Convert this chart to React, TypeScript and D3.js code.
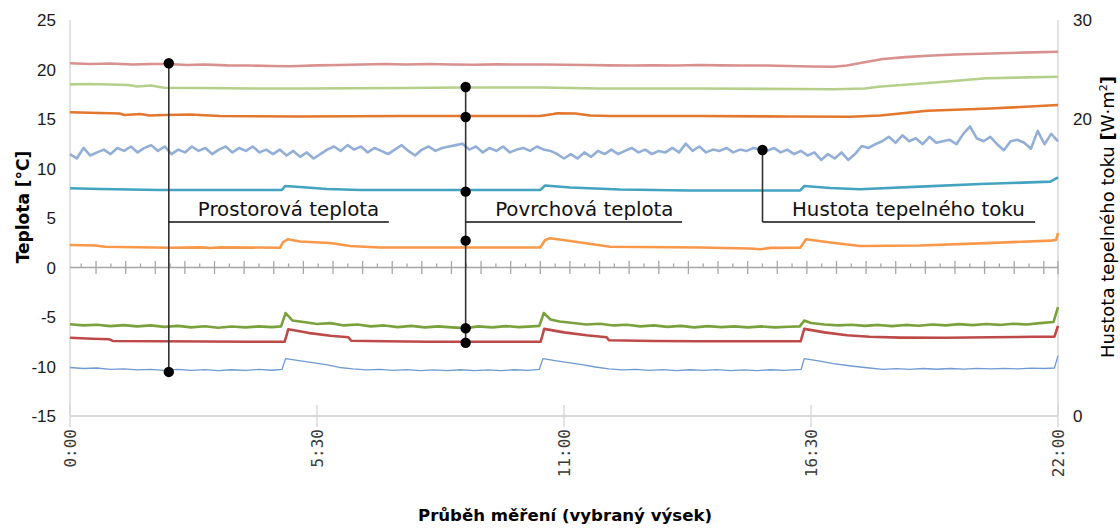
import React from "react";
import * as d3 from "d3";

// ---------- DATA ----------
// time in hours (0:00 .. 22:00); temperatures in °C, heat flux in W·m⁻²
const xTickLabels = ["0:00", "5:30", "11:00", "16:30", "22:00"];
const xTickHours = [0, 5.5, 11, 16.5, 22];
const leftTicks = [-15, -10, -5, 0, 5, 10, 15, 20, 25];
const rightTicks = [0, 20, 30];

// Prostorová teplota (interior air) – pink
const airInside: [number, number][] = [
  [0, 20.63], [0.45, 20.56], [0.9, 20.6], [1.4, 20.5], [1.8, 20.56], [2.2, 20.56], [2.6, 20.45], [3.0, 20.5],
  [3.5, 20.42], [4.0, 20.4], [4.5, 20.35], [4.9, 20.33], [5.5, 20.42], [6.0, 20.45], [6.5, 20.5], [7.0, 20.55],
  [7.5, 20.5], [8.0, 20.55], [8.5, 20.5], [9.0, 20.48], [9.5, 20.52], [10.0, 20.5], [10.5, 20.5], [11.0, 20.48],
  [11.5, 20.45], [12.0, 20.42], [12.5, 20.4], [13.0, 20.42], [13.5, 20.4], [14.0, 20.45], [14.5, 20.42],
  [15.0, 20.4], [15.5, 20.4], [16.0, 20.35], [16.5, 20.3], [17.0, 20.28], [17.3, 20.4], [17.6, 20.66],
  [18.1, 21.06], [18.6, 21.25], [19.1, 21.39], [19.7, 21.52], [20.5, 21.62], [21.2, 21.7], [22, 21.8]
];
// Povrchová teplota – light green
const surf1: [number, number][] = [
  [0, 18.5], [0.45, 18.54], [1.3, 18.43], [1.5, 18.28], [1.8, 18.38], [2.1, 18.16], [2.9, 18.13], [4.2, 18.08],
  [5.2, 18.08], [7.4, 18.13], [8.8, 18.18], [10.5, 18.18], [11.8, 18.08], [14.0, 18.08], [16.2, 18.03],
  [17.0, 18.0], [17.7, 18.08], [18.0, 18.26], [19.4, 18.74], [20.4, 19.11], [22, 19.27]
];
// Povrchová teplota – dark orange
const surf2: [number, number][] = [
  [0, 15.68], [0.67, 15.61], [1.1, 15.55], [1.22, 15.4], [1.56, 15.5], [1.78, 15.35], [2.1, 15.4], [2.67, 15.45],
  [3.34, 15.3], [5.1, 15.25], [7.35, 15.3], [8.8, 15.3], [10.47, 15.3], [10.76, 15.5], [10.85, 15.58],
  [11.25, 15.56], [11.58, 15.36], [12.03, 15.3], [14.03, 15.3], [16.03, 15.25], [17.37, 15.23], [18.04, 15.36],
  [19.09, 15.84], [20.49, 16.06], [22, 16.41]
];
// Povrchová teplota – teal
const surf3: [number, number][] = [
  [0, 8.0], [0.67, 7.93], [2.0, 7.83], [4.72, 7.83], [4.79, 8.23], [5.12, 8.13], [5.72, 7.93], [6.46, 7.83],
  [10.47, 7.83], [10.58, 8.28], [11.14, 8.08], [12.25, 7.88], [13.8, 7.78], [16.26, 7.78], [16.35, 8.23],
  [16.93, 8.03], [17.59, 7.9], [18.93, 8.17], [20.27, 8.43], [21.83, 8.67], [22, 9.11]
];
// Povrchová teplota – light orange
const surf4: [number, number][] = [
  [0, 2.27], [0.56, 2.22], [0.78, 2.1], [2.23, 2.0], [2.9, 2.03], [3.12, 1.97], [3.34, 2.03], [4.68, 2.0],
  [4.74, 2.55], [4.85, 2.85], [5.12, 2.63], [5.79, 2.47], [6.24, 2.17], [6.9, 2.02], [10.47, 2.02],
  [10.58, 2.78], [10.69, 2.95], [11.14, 2.68], [12.03, 2.1], [14.03, 2.02], [15.14, 1.92], [15.37, 1.84],
  [15.6, 1.98], [16.26, 2.0], [16.39, 2.85], [16.93, 2.52], [17.59, 2.17], [18.93, 2.22], [20.27, 2.44],
  [21.83, 2.71], [21.96, 2.8], [22, 3.5]
];
// Povrchová teplota – green (exterior surface)
const surf5: [number, number][] = [
  [0, -5.74], [0.3, -5.85], [0.6, -5.78], [0.9, -5.92], [1.2, -5.82], [1.5, -5.95], [1.8, -5.85], [2.1, -6.0],
  [2.4, -5.9], [2.7, -6.05], [3.0, -5.93], [3.3, -6.08], [3.6, -5.96], [3.9, -6.05], [4.2, -5.95], [4.5, -6.02],
  [4.7, -5.95], [4.8, -4.6], [4.95, -5.35], [5.2, -5.5], [5.5, -5.7], [5.8, -5.62], [6.1, -5.85], [6.4, -5.75],
  [6.7, -5.95], [7.0, -5.85], [7.3, -6.02], [7.6, -5.9], [7.9, -6.05], [8.2, -5.95], [8.5, -6.05], [8.8, -6.12],
  [9.1, -5.95], [9.4, -6.05], [9.7, -5.92], [10.0, -6.02], [10.3, -5.95], [10.45, -5.9], [10.55, -4.6],
  [10.7, -5.25], [10.9, -5.45], [11.2, -5.6], [11.5, -5.75], [11.8, -5.68], [12.1, -5.85], [12.4, -5.78],
  [12.7, -5.95], [13.0, -5.85], [13.3, -6.0], [13.6, -5.9], [13.9, -6.05], [14.2, -5.92], [14.5, -6.02],
  [14.8, -5.95], [15.1, -6.05], [15.4, -5.95], [15.7, -6.05], [16.0, -5.98], [16.25, -5.95], [16.35, -5.35],
  [16.5, -5.6], [16.8, -5.75], [17.1, -5.85], [17.4, -5.78], [17.7, -5.9], [18.0, -5.8], [18.3, -5.92],
  [18.6, -5.8], [18.9, -5.88], [19.2, -5.75], [19.5, -5.85], [19.8, -5.72], [20.1, -5.82], [20.4, -5.7],
  [20.7, -5.8], [21.0, -5.68], [21.3, -5.75], [21.6, -5.62], [21.9, -5.5], [22.0, -4.0]
];
// Povrchová teplota – red
const surf6: [number, number][] = [
  [0, -7.1], [0.5, -7.2], [0.88, -7.25], [0.95, -7.42], [2.0, -7.45], [3.0, -7.48], [4.0, -7.5], [4.78, -7.5],
  [4.86, -6.24], [5.3, -6.6], [5.8, -6.9], [6.2, -7.05], [6.26, -7.4], [7.0, -7.45], [8.0, -7.5], [9.0, -7.5],
  [10.0, -7.5], [10.48, -7.5], [10.56, -6.2], [11.0, -6.55], [11.5, -6.85], [11.95, -7.05], [12.0, -7.35],
  [13.0, -7.42], [14.0, -7.45], [15.0, -7.45], [16.27, -7.45], [16.35, -6.2], [16.8, -6.55], [17.3, -6.85],
  [17.8, -7.0], [18.5, -7.08], [19.5, -7.1], [20.5, -7.05], [21.5, -7.0], [21.92, -6.98], [22, -5.9]
];
// Prostorová teplota (exterior air) – thin blue
const airOutside: [number, number][] = [
  [0, -10.1], [0.3, -10.2], [0.6, -10.15], [0.9, -10.3], [1.2, -10.25], [1.5, -10.35], [1.8, -10.3], [2.1, -10.4],
  [2.4, -10.3], [2.7, -10.4], [3.0, -10.32], [3.3, -10.42], [3.6, -10.33], [3.9, -10.4], [4.2, -10.3],
  [4.5, -10.38], [4.72, -10.3], [4.8, -9.2], [5.1, -9.4], [5.4, -9.6], [5.7, -9.8], [6.0, -10.1], [6.3, -10.25],
  [6.6, -10.35], [6.9, -10.3], [7.2, -10.4], [7.5, -10.32], [7.8, -10.42], [8.1, -10.35], [8.4, -10.42],
  [8.7, -10.33], [9.0, -10.42], [9.3, -10.35], [9.6, -10.42], [9.9, -10.33], [10.2, -10.4], [10.45, -10.3],
  [10.53, -9.2], [10.8, -9.4], [11.1, -9.6], [11.4, -9.8], [11.7, -10.05], [12.0, -10.25], [12.3, -10.35],
  [12.6, -10.3], [12.9, -10.4], [13.2, -10.32], [13.5, -10.42], [13.8, -10.33], [14.1, -10.4], [14.4, -10.32],
  [14.7, -10.42], [15.0, -10.35], [15.3, -10.42], [15.6, -10.33], [15.9, -10.4], [16.28, -10.3], [16.35, -9.2],
  [16.7, -9.45], [17.0, -9.7], [17.4, -9.95], [17.8, -10.15], [18.1, -10.3], [18.4, -10.22], [18.7, -10.3],
  [19.0, -10.2], [19.3, -10.28], [19.6, -10.2], [19.9, -10.26], [20.2, -10.18], [20.5, -10.25], [20.8, -10.18],
  [21.1, -10.24], [21.4, -10.16], [21.7, -10.2], [21.92, -10.15], [22, -8.9]
];
// Hustota tepelného toku (heat flux), equally spaced samples over 0:00–22:00
const heatFlux: number[] = [
  17.64, 17.34, 18.05, 17.54, 17.75, 17.94, 17.64, 18.05, 17.85, 18.15, 17.75, 18.05, 18.24, 17.85, 18.15,
  17.64, 17.94, 17.75, 18.15, 17.85, 18.05, 17.64, 17.94, 18.15, 17.75, 18.05, 17.85, 18.15, 17.75, 17.94,
  17.64, 17.94, 17.54, 17.85, 17.45, 17.75, 17.34, 17.64, 17.94, 18.15, 17.85, 18.24, 17.94, 18.15, 17.75,
  18.05, 17.85, 17.64, 17.94, 18.24, 17.85, 17.54, 17.94, 18.15, 17.85, 18.05, 18.15, 18.24, 18.34, 17.94,
  18.15, 17.75, 18.05, 17.85, 18.15, 17.75, 17.94, 18.05, 17.85, 18.15, 17.94, 17.85, 17.64, 17.34, 17.64,
  17.34, 17.75, 17.45, 17.85, 17.64, 17.94, 17.64, 17.85, 18.05, 17.75, 17.94, 17.64, 17.85, 17.75, 18.05,
  17.75, 18.34, 17.85, 18.15, 17.75, 17.94, 17.85, 18.05, 17.75, 17.94, 17.85, 18.05, 17.94, 17.85, 18.05,
  17.75, 17.94, 17.64, 17.85, 17.54, 17.75, 17.24, 17.64, 17.34, 17.75, 17.24, 17.64, 18.18, 18.05, 18.3,
  18.5, 18.8, 18.4, 18.9, 18.5, 18.7, 18.3, 18.8, 18.4, 18.5, 18.6, 18.3, 19.0, 19.5, 18.7,
  18.5, 18.8, 18.3, 17.9, 18.5, 18.6, 18.4, 18.0, 19.2, 18.3, 19.0, 18.5
];

// callouts
const calloutProstorova = { label: "Prostorová teplota", hour: 2.2, dots: [20.63, -10.55], lineEnd: 7.1 };
const calloutPovrchova = { label: "Povrchová teplota", hour: 8.81, dots: [18.23, 15.2, 7.66, 2.71, -6.14, -7.6], lineEnd: 13.63 };
const calloutHustota = { label: "Hustota tepelného toku", hour: 15.42, flux: 17.91, lineEnd: 21.49 };
const calloutBaseValue = 4.6; // underline level (left axis units)

// minor/major tick spacing on the zero axis (hours)
const zeroAxisFirstMajor = 0.58;
const zeroAxisStep = 0.6595;

// ---------- CHART ----------
const W = 1120, H = 528;
const L = 70, R = 1058, T = 20, B = 416;

export default function App() {
  const x = d3.scaleLinear().domain([0, 22]).range([L, R]);
  const yL = d3.scaleLinear().domain([-15, 25]).range([B, T]);
  const yR = d3.scaleLinear().domain([0, 20, 30]).range([yL(-15), yL(15), yL(25)]);

  const line = d3.line<[number, number]>().x(d => x(d[0])).y(d => yL(d[1]));
  const fluxLine = d3.line<number>()
    .x((_, i) => x((i * 22) / (heatFlux.length - 1)))
    .y(d => yR(d));

  const series = [
    { d: airInside, color: "#d9918f", w: 2.6 },
    { d: surf1, color: "#b5d08b", w: 2.6 },
    { d: surf2, color: "#e3772d", w: 2.6 },
    { d: surf3, color: "#43a3c1", w: 2.6 },
    { d: surf4, color: "#f99849", w: 2.6 },
    { d: surf5, color: "#7aa23c", w: 2.6 },
    { d: surf6, color: "#bd4a48", w: 2.6 },
    { d: airOutside, color: "#6f9ad2", w: 1.3 },
  ];

  const majors: number[] = [];
  for (let h = zeroAxisFirstMajor; h <= 22.0001; h += zeroAxisStep) majors.push(h);
  const minors = majors.map(h => h - zeroAxisStep / 2).filter(h => h > 0);
  if (majors[majors.length - 1] + zeroAxisStep / 2 < 22) minors.push(majors[majors.length - 1] + zeroAxisStep / 2);

  const y0 = yL(0);
  const ub = yL(calloutBaseValue);
  const calloutFont = "'DejaVu Sans', sans-serif";

  return (
    <svg width={W} height={H} style={{ position: "absolute", left: 0, top: 0, background: "#fff" }}
      fontFamily="'Liberation Sans', Arial, sans-serif">
      {/* frame */}
      <line x1={L} x2={L} y1={T} y2={B} stroke="#d9d9d9" strokeWidth={1.5} />
      <line x1={R} x2={R} y1={T} y2={B} stroke="#d9d9d9" strokeWidth={1.5} />
      <line x1={L} x2={R} y1={B} y2={B} stroke="#d9d9d9" strokeWidth={2} />
      {xTickHours.map((h, i) => (
        <line key={"bt" + i} x1={x(h)} x2={x(h)} y1={B - 11} y2={B + 11} stroke="#d9d9d9" strokeWidth={1.5} />
      ))}

      {/* zero axis */}
      <line x1={L} x2={R} y1={y0} y2={y0} stroke="#a6a6a6" strokeWidth={1.5} />
      {majors.map((h, i) => (
        <line key={"mj" + i} x1={x(h)} x2={x(h)} y1={y0 - 6.5} y2={y0 + 6.5} stroke="#a6a6a6" strokeWidth={1.3} />
      ))}
      {minors.map((h, i) => (
        <line key={"mn" + i} x1={x(h)} x2={x(h)} y1={y0 - 4} y2={y0} stroke="#a6a6a6" strokeWidth={1.3} />
      ))}
      <line x1={R} x2={R} y1={y0 - 6.5} y2={y0 + 6.5} stroke="#a6a6a6" strokeWidth={1.3} />

      {/* series */}
      <path d={fluxLine(heatFlux) || ""} fill="none" stroke="#93afd8" strokeWidth={2.6} strokeLinejoin="round" />
      {series.map((s, i) => (
        <path key={"s" + i} d={line(s.d) || ""} fill="none" stroke={s.color} strokeWidth={s.w} strokeLinejoin="round" />
      ))}

      {/* left ticks */}
      {leftTicks.map(t => (
        <text key={"lt" + t} x={56} y={yL(t)} dy="0.36em" textAnchor="end" fontSize={17} fill="#1a1a1a">{t}</text>
      ))}
      {/* right ticks */}
      {rightTicks.map(t => (
        <text key={"rt" + t} x={1073} y={yR(t)} dy="0.36em" textAnchor="start" fontSize={17} fill="#1a1a1a">{t}</text>
      ))}
      {/* x tick labels */}
      {xTickHours.map((h, i) => (
        <text key={"xl" + i} transform={`translate(${x(h)},${429}) rotate(-90)`} textAnchor="end" dy="0.36em"
          fontFamily="'DejaVu Sans Mono', monospace" fontSize={16} fill="#3a3a3a">{xTickLabels[i]}</text>
      ))}

      {/* axis titles */}
      <text x={565} y={521} textAnchor="middle" fontFamily="'DejaVu Sans', sans-serif" fontWeight="bold"
        fontSize={15.5} textLength={294} lengthAdjust="spacingAndGlyphs" fill="#000">Průběh měření (vybraný výsek)</text>
      <text transform={`translate(29,207) rotate(-90)`} textAnchor="middle" fontFamily="'DejaVu Sans', sans-serif"
        fontWeight="bold" fontSize={17} fill="#000">Teplota [°C]</text>
      <text transform={`translate(1114,217) rotate(-90)`} textAnchor="middle" fontFamily="'DejaVu Sans', sans-serif"
        fontSize={18} fill="#000">Hustota tepelného toku <tspan fontWeight="bold">[</tspan>W·m<tspan dy="-7" fontSize={11}>2</tspan><tspan dy="7" fontWeight="bold">]</tspan></text>

      {/* callout: Prostorová teplota */}
      <line x1={x(calloutProstorova.hour)} x2={x(calloutProstorova.hour)} y1={yL(calloutProstorova.dots[0])}
        y2={yL(calloutProstorova.dots[1])} stroke="#333" strokeWidth={1.6} />
      <line x1={x(calloutProstorova.hour)} x2={x(calloutProstorova.lineEnd)} y1={ub} y2={ub} stroke="#111" strokeWidth={1.5} />
      {calloutProstorova.dots.map((v, i) => (
        <circle key={"pd" + i} cx={x(calloutProstorova.hour)} cy={yL(v)} r={5.2} fill="#000" />
      ))}
      <text x={x(calloutProstorova.hour) + 29} y={ub - 5.5} fontFamily={calloutFont} fontSize={19.8} fill="#111">
        {calloutProstorova.label}</text>

      {/* callout: Povrchová teplota */}
      <line x1={x(calloutPovrchova.hour)} x2={x(calloutPovrchova.hour)} y1={yL(calloutPovrchova.dots[0])}
        y2={yL(calloutPovrchova.dots[calloutPovrchova.dots.length - 1])} stroke="#333" strokeWidth={1.6} />
      <line x1={x(calloutPovrchova.hour)} x2={x(calloutPovrchova.lineEnd)} y1={ub} y2={ub} stroke="#111" strokeWidth={1.5} />
      {calloutPovrchova.dots.map((v, i) => (
        <circle key={"vd" + i} cx={x(calloutPovrchova.hour)} cy={yL(v)} r={5.2} fill="#000" />
      ))}
      <text x={x(calloutPovrchova.hour) + 29.5} y={ub - 5.5} fontFamily={calloutFont} fontSize={19.8} fill="#111">
        {calloutPovrchova.label}</text>

      {/* callout: Hustota tepelného toku */}
      <line x1={x(calloutHustota.hour)} x2={x(calloutHustota.hour)} y1={yR(calloutHustota.flux)} y2={ub}
        stroke="#333" strokeWidth={1.6} />
      <line x1={x(calloutHustota.hour)} x2={x(calloutHustota.lineEnd)} y1={ub} y2={ub} stroke="#111" strokeWidth={1.5} />
      <circle cx={x(calloutHustota.hour)} cy={yR(calloutHustota.flux)} r={5.2} fill="#000" />
      <text x={x(calloutHustota.hour) + 29.5} y={ub - 5.5} fontFamily={calloutFont} fontSize={19.8} fill="#111">
        {calloutHustota.label}</text>
    </svg>
  );
}
